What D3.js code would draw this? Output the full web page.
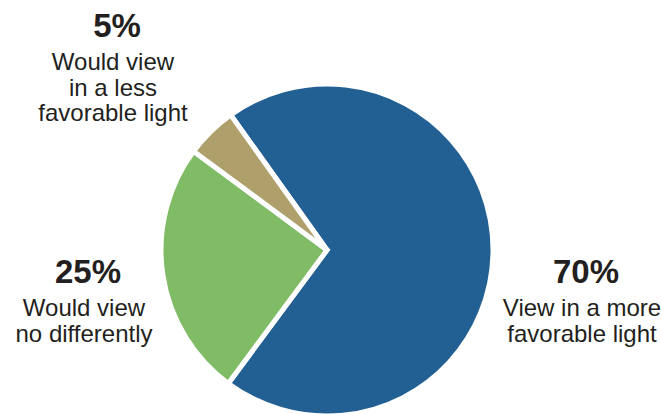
<!DOCTYPE html>
<html>
<head>
<meta charset="utf-8">
<script src="https://cdn.jsdelivr.net/npm/d3@7"></script>
<style>
  html, body { margin: 0; padding: 0; background: #fff; }
  svg { display: block; }
</style>
</head>
<body>
<svg id="chart" width="662" height="414"></svg>
<script>
const categories = ["View in a more favorable light", "Would view no differently", "Would view in a less favorable light"];
const values = [70, 25, 5];
const percentLabels = ["70%", "25%", "5%"];
const labelLines = [["View in a more", "favorable light"], ["Would view", "no differently"], ["Would view", "in a less", "favorable light"]];
const colors = ["#226094", "#80bb66", "#ae9f6b"];

const svg = d3.select("#chart");
const cx = 327, cy = 250, r = 166;
const start = -35.5 * Math.PI / 180;

const pie = d3.pie().sort(null).startAngle(start).endAngle(start + 2 * Math.PI);
const arc = d3.arc().innerRadius(0).outerRadius(r);

const g = svg.append("g").attr("transform", `translate(${cx},${cy})`);
g.selectAll("path")
  .data(pie(values))
  .join("path")
  .attr("d", arc)
  .attr("fill", (d, i) => colors[i])
  .attr("stroke", "#fff")
  .attr("stroke-width", 5)
  .attr("stroke-linejoin", "miter");

// label anchor positions (center x, baseline of percent)
const labelPos = [
  { x: 582, y: 283 },
  { x: 84, y: 283 },
  { x: 113, y: 37 }
];

const font = "'Liberation Sans', Arial, sans-serif";
labelPos.forEach((p, i) => {
  const t = svg.append("g").attr("transform", `translate(${p.x},${p.y})`);
  t.append("text")
    .attr("x", 4)
    .attr("text-anchor", "middle")
    .attr("font-family", font)
    .attr("font-weight", "bold")
    .attr("font-size", 33)
    .attr("fill", "#231f20")
    .text(percentLabels[i]);
  labelLines[i].forEach((line, j) => {
    t.append("text")
      .attr("y", 33 + j * 25.5)
      .attr("text-anchor", "middle")
      .attr("font-family", font)
      .attr("font-size", 24)
      .attr("fill", "#231f20")
      .text(line);
  });
});
</script>
</body>
</html>
